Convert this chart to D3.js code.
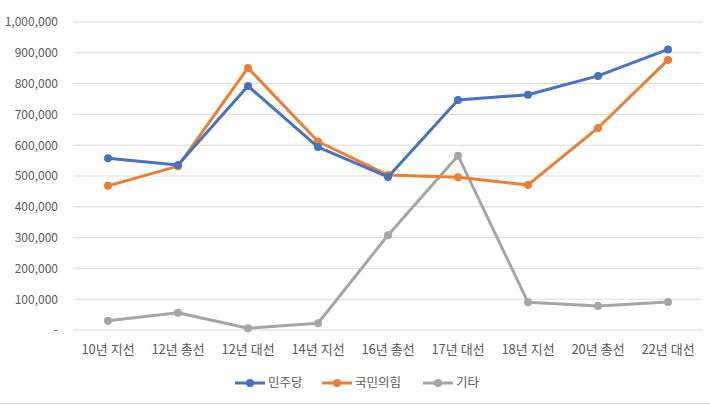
<!DOCTYPE html>
<html><head><meta charset="utf-8">
<script src="https://cdn.jsdelivr.net/npm/d3@7"></script>
<style>body{margin:0;background:#fff}svg{display:block}</style>
</head><body>
<script>
const categories = ["10년 지선","12년 총선","12년 대선","14년 지선","16년 총선","17년 대선","18년 지선","20년 총선","22년 대선"];
const seriesNames = ["민주당","국민의힘","기타"];
const minjudang = [558000,536000,792000,594000,497000,747000,764000,825000,911000];
const gukminui = [468000,532000,851000,612000,503000,496000,471000,656000,877000];
const gita = [30000,56000,5500,22000,308000,566000,90000,78000,91000];
const yTicks = [0,100000,200000,300000,400000,500000,600000,700000,800000,900000,1000000];
const colors = ["#4472C4","#ED7D31","#A5A5A5"];

const W=710,H=405;
const svg=d3.select("body").append("svg").attr("width",W).attr("height",H);
const font="'Noto Sans CJK KR','Noto Sans',sans-serif";
const x=d3.scaleBand().domain(categories).range([73,703]);
const y=d3.scaleLinear().domain([0,1000000]).range([330,22]);

svg.append("g").selectAll("line").data(yTicks).join("line")
  .attr("x1",73).attr("x2",703).attr("y1",d=>y(d)).attr("y2",d=>y(d))
  .attr("stroke","#D9D9D9").attr("stroke-width",1);

const yAxis=d3.axisLeft(y).tickValues(yTicks).tickSize(0).tickPadding(0)
  .tickFormat(d=>d===0?"-  ":d3.format(",")(d));
const gy=svg.append("g").attr("transform","translate(58,0)").call(yAxis);
gy.select(".domain").remove();
gy.selectAll("text").attr("fill","#595959").style("font-family",font).style("font-size","12px");

const xAxis=d3.axisBottom(x).tickSize(0).tickPadding(0);
const gx=svg.append("g").attr("transform","translate(0,345)").call(xAxis);
gx.select(".domain").remove();
gx.selectAll("text").attr("fill","#595959").style("font-family",font).style("font-size","13px");

const data=[minjudang,gukminui,gita];
const line=d3.line().x((d,i)=>x(categories[i])+x.bandwidth()/2).y(d=>y(d));
[2,1,0].forEach(k=>{
  const g=svg.append("g");
  g.append("path").datum(data[k]).attr("d",line).attr("fill","none")
    .attr("stroke",colors[k]).attr("stroke-width",3).attr("stroke-linejoin","round");
  g.selectAll("circle").data(data[k]).join("circle")
    .attr("cx",(d,i)=>x(categories[i])+x.bandwidth()/2).attr("cy",d=>y(d))
    .attr("r",4).attr("fill",colors[k]);
});

const legX=[235,322,423];
seriesNames.forEach((n,k)=>{
  const g=svg.append("g").attr("transform",`translate(${legX[k]},383)`);
  g.append("line").attr("x1",0).attr("x2",30).attr("stroke",colors[k]).attr("stroke-width",3);
  g.append("circle").attr("cx",15).attr("r",4).attr("fill",colors[k]);
  g.append("text").attr("x",33).attr("y",0).attr("dy","0.35em").text(n)
    .attr("fill","#595959").style("font-family",font).style("font-size","12.5px");
});

svg.append("line").attr("x1",0).attr("x2",W).attr("y1",403.5).attr("y2",403.5)
  .attr("stroke","#D9D9D9").attr("stroke-width",1);
</script>
</body></html>
